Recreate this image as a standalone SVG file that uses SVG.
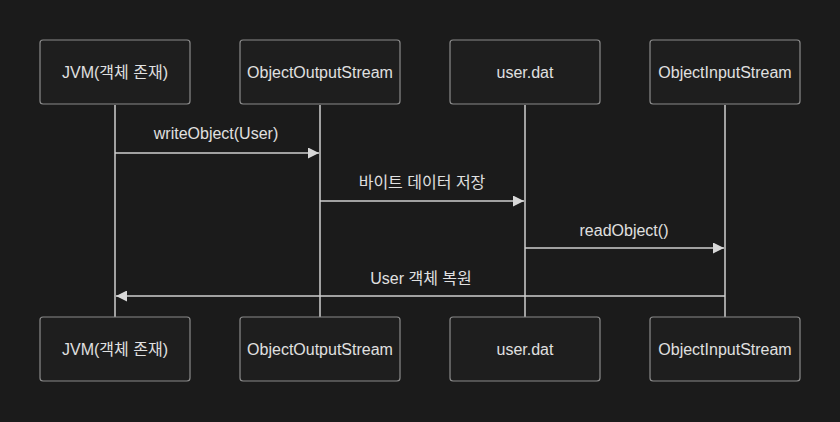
<svg xmlns="http://www.w3.org/2000/svg" width="840" height="422" viewBox="0 0 840 422">
<style>
.bg{fill:#1b1b1b}
.box{fill:#1e1e1e;stroke:#8a8a8a;stroke-width:1.2}
.t{font-family:"Liberation Sans","Noto Sans CJK KR",sans-serif;font-size:16px;fill:#e0e0e0;text-anchor:middle;dominant-baseline:central}
.life{stroke:#cfcfcf;stroke-width:1.5}
.msg{stroke:#cfcfcf;stroke-width:1.5;fill:none}
</style>
<defs>
<marker id="ah" viewBox="0 0 10 10" refX="10" refY="5" markerWidth="11" markerHeight="11" markerUnits="userSpaceOnUse" orient="auto">
<path d="M0,0 L10,5 L0,10 z" fill="#d8d8d8"/>
</marker>
</defs>
<rect class="bg" x="0" y="0" width="840" height="422"/>
<g id="lifelines">
<line class="life" x1="115" y1="105" x2="115" y2="317"/>
<line class="life" x1="320" y1="105" x2="320" y2="317"/>
<line class="life" x1="525" y1="105" x2="525" y2="317"/>
<line class="life" x1="725" y1="105" x2="725" y2="317"/>
</g>
<g id="connectors">
<line class="msg" x1="115" y1="153" x2="319" y2="153" marker-end="url(#ah)"/>
<text class="t" x="216" y="133">writeObject(User)</text>
<line class="msg" x1="320" y1="201" x2="524" y2="201" marker-end="url(#ah)"/>
<text class="t" x="422" y="182">바이트 데이터 저장</text>
<line class="msg" x1="525" y1="248" x2="724" y2="248" marker-end="url(#ah)"/>
<text class="t" x="624" y="230">readObject()</text>
<line class="msg" x1="725" y1="296" x2="116" y2="296" marker-end="url(#ah)"/>
<text class="t" x="421" y="278">User 객체 복원</text>
</g>
<g id="jvm-top"><rect class="box" x="40" y="40" width="150" height="64" rx="3"/><text class="t" x="115" y="72">JVM(객체 존재)</text></g>
<g id="oos-top"><rect class="box" x="240" y="40" width="160" height="64" rx="3"/><text class="t" x="320" y="72">ObjectOutputStream</text></g>
<g id="dat-top"><rect class="box" x="450" y="40" width="150" height="64" rx="3"/><text class="t" x="525" y="72">user.dat</text></g>
<g id="ois-top"><rect class="box" x="650" y="40" width="150" height="64" rx="3"/><text class="t" x="725" y="72">ObjectInputStream</text></g>
<g id="jvm-bottom"><rect class="box" x="40" y="317" width="150" height="64" rx="3"/><text class="t" x="115" y="349">JVM(객체 존재)</text></g>
<g id="oos-bottom"><rect class="box" x="240" y="317" width="160" height="64" rx="3"/><text class="t" x="320" y="349">ObjectOutputStream</text></g>
<g id="dat-bottom"><rect class="box" x="450" y="317" width="150" height="64" rx="3"/><text class="t" x="525" y="349">user.dat</text></g>
<g id="ois-bottom"><rect class="box" x="650" y="317" width="150" height="64" rx="3"/><text class="t" x="725" y="349">ObjectInputStream</text></g>
</svg>
